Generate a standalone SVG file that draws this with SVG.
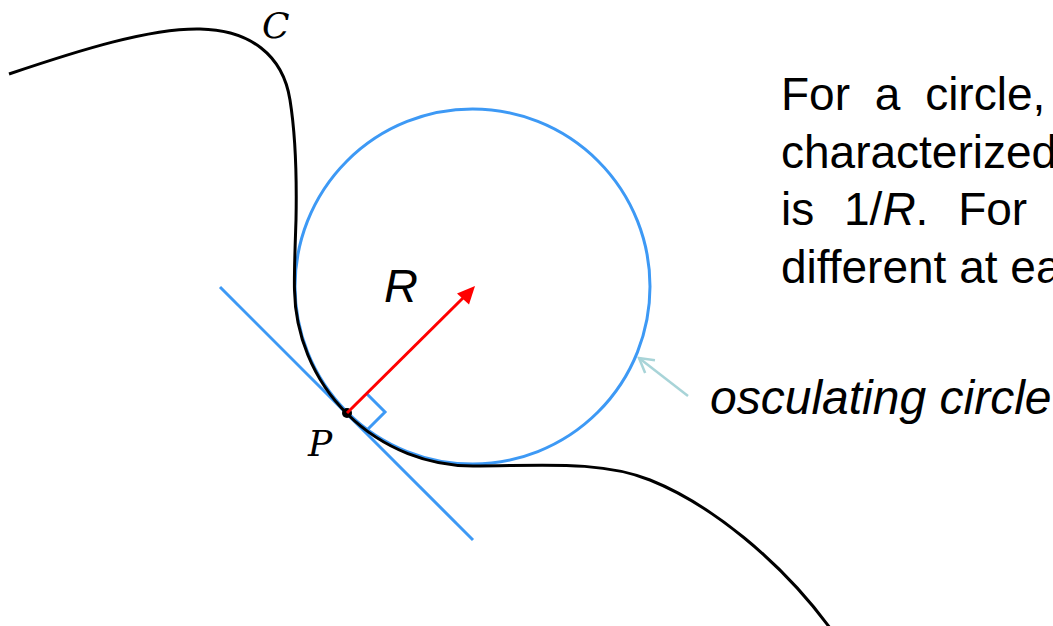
<svg xmlns="http://www.w3.org/2000/svg" width="1053" height="626" viewBox="0 0 1053 626">
<defs>
<style>
.txt{font-family:"Liberation Sans",Arial,sans-serif;font-size:46px;fill:#000}
.it{font-style:italic}
.math{font-family:"DejaVu Serif","Liberation Serif",serif;font-style:italic;font-size:36px;fill:#000}
.blue{fill:none;stroke:#3d99f5;stroke-width:3}
</style>
<marker id="openhead" viewBox="0 0 20 20" refX="16" refY="10" markerWidth="20" markerHeight="20" markerUnits="userSpaceOnUse" orient="auto">
<path d="M2,2 L16,10 L2,18" fill="none" stroke="#a8d4d8" stroke-width="2.5"/>
</marker>
</defs>
<rect width="1053" height="626" fill="#fff"/>
<g id="osculating-circle">
<circle class="blue" cx="472.5" cy="286.5" r="177.5"/>
</g>
<g id="tangent">
<line class="blue" x1="220" y1="287" x2="473" y2="540"/>
<path class="blue" d="M366,393 L385,412 L366,431"/>
</g>
<g id="curve-C">
<path d="M9,74 C80,50 150,28 200,29 C250,30 283,55 290,100 C294,125 297,170 296,220 C295,250 294,275 294.5,290 A179,179 0 0 0 473,466 C540,466 600,460 650,480 C710,504 780,560 830,628" fill="none" stroke="#000" stroke-width="3"/>
<text class="math" x="262" y="38">C</text>
</g>
<g id="point-P">
<circle cx="347" cy="413" r="5" fill="#000"/>
<text class="math" x="308" y="456">P</text>
</g>
<g id="radius">
<line x1="347" y1="413" x2="464" y2="297" stroke="#f00" stroke-width="3"/>
<polygon points="475,286 457,293.5 469,304.5" fill="#f00"/>
<text class="txt it" x="384" y="301.5" style="font-size:47px">R</text>
</g>
<g id="connectors">
<line x1="688" y1="396" x2="639" y2="358" stroke="#a8d4d8" stroke-width="2.5" marker-end="url(#openhead)"/>
</g>
<g id="label">
<text class="txt it" x="710" y="414" style="font-size:48px">osculating circle</text>
</g>
<g id="description">
<text class="txt" x="781" y="110" word-spacing="12">For a circle,</text>
<text class="txt" x="781" y="167.5">characterized</text>
<text class="txt" x="781" y="225" word-spacing="17">is 1/<tspan class="it">R</tspan>. For</text>
<text class="txt" x="781" y="282.5">different at ea</text>
</g>
</svg>
